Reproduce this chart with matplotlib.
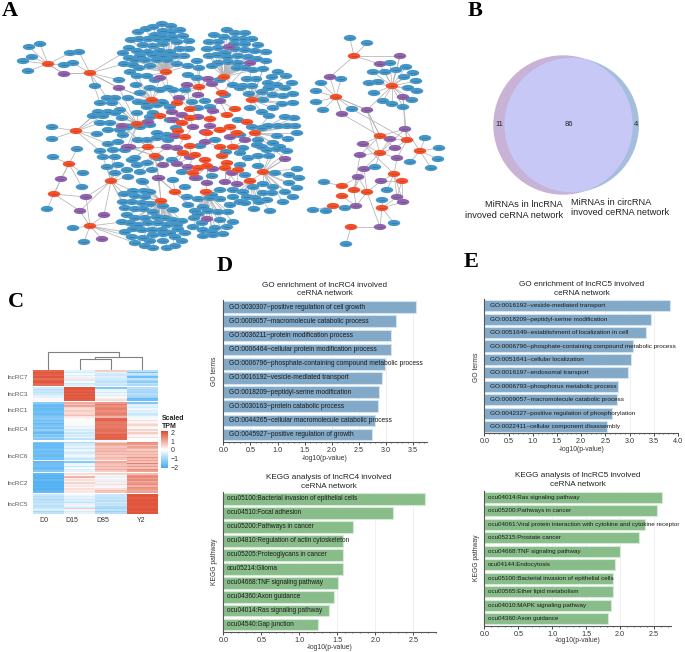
import matplotlib
matplotlib.use('Agg')
import matplotlib.pyplot as plt
import numpy as np
from matplotlib.collections import EllipseCollection, LineCollection
from matplotlib.colors import LinearSegmentedColormap
from matplotlib.patches import Circle
from matplotlib.ticker import MultipleLocator

plt.rcParams['font.family'] = ['Liberation Sans', 'DejaVu Sans']

W, H = 685, 652

# panel A, node positions (pixels)
blue_nodes = [
    # top left cloud
    (162,24),(171,26),(153,27),(146,29),(138,32),(163,31),(171,32),(180,30),(155,35),(162,36),(173,37),(183,36),
    (189,41),(131,40),(139,39),(148,39),(157,39),(167,39),(177,42),(129,48),(143,45),(153,46),(163,44),(180,49),
    (189,49),(123,53),(137,51),(148,52),(160,51),(170,52),(184,56),(129,58),(140,56),(153,55),(163,56),(175,56),
    (135,60),(145,60),(157,60),(167,60),(124,64),(133,65),(139,68),(150,66),(177,64),(130,72),(137,76),(147,76),
    # top right cloud
    (227,30),(235,33),(245,33),(214,35),(224,37),(235,39),(243,39),(252,39),(209,42),(218,42),(234,44),(245,44),
    (258,45),(207,49),(218,48),(225,53),(235,49),(245,50),(255,51),(266,52),(209,56),(217,55),(227,57),(238,56),
    (248,57),(257,59),(266,61),(197,61),(212,66),(218,63),(228,62),(238,63),(237,68),(245,68),(253,70),(263,69),
    (199,68),(188,66),(188,75),(197,78),(220,80),(247,79),(256,79),(278,72),(272,77),(286,76),(292,83),(277,85),
    (268,83),(285,88),(233,85),(243,86),(252,86),(262,92),(249,94),(273,95),(283,96),(293,94),
    # right of the core
    (269,88),(293,103),(263,100),(282,104),(250,108),(273,108),(262,112),(269,116),(285,117),(294,118),(268,126),
    (278,126),(287,126),(295,126),(262,128),(252,127),(297,133),(277,136),(288,139),(258,140),(273,143),(262,147),
    (277,149),(287,151),(243,148),(258,156),(248,158),(269,156),(240,165),(258,166),(275,173),(289,175),(297,169),
    (299,178),(263,184),(289,183),(297,188),(273,187),(253,187),(272,193),(285,192),(263,193),(243,192),(293,197),
    (255,198),(247,197),(267,200),(259,202),(245,203),(283,202),(233,197),(254,209),(270,211),
    # bottom left cloud
    (124,194),(133,191),(144,191),(135,196),(145,197),(123,202),(132,202),(142,203),(150,204),(125,208),(135,209),
    (143,209),(153,212),(163,206),(173,210),(127,215),(135,218),(145,218),(157,217),(165,218),(173,220),(182,221),
    (122,222),(130,223),(138,225),(148,223),(158,223),(167,225),(177,225),(125,232),(133,229),(142,230),(152,230),
    (162,230),(170,233),(178,229),(185,233),(132,237),(143,238),(153,235),(163,234),(175,237),(135,243),(150,241),
    (163,241),(182,241),(145,246),(153,248),(167,248),(175,246),
    # bottom centre cloud
    (187,197),(198,199),(210,198),(220,199),(188,205),(203,207),(195,211),(208,211),(218,212),(228,212),(194,218),
    (198,214),(220,220),(233,222),(202,223),(193,227),(203,230),(215,228),(227,227),(203,236),(213,235),(223,234),
    (212,232),(230,205),(240,202),
    # left of the core
    (95,86),(119,80),(136,85),(107,98),(115,98),(128,98),(138,102),(100,103),(112,103),(98,112),(108,112),(120,110),
    (93,116),(103,116),(115,113),(100,123),(110,123),(122,118),(97,134),(108,130),(120,130),(128,127),(123,135),
    (108,144),(118,142),(100,151),(113,150),(125,150),(103,157),(115,157),(107,167),(118,165),(132,160),(115,173),
    (127,170),(137,165),(142,181),(128,177),(147,107),(157,105),(170,107),(150,88),(160,90),(173,90),(137,113),
    (150,117),(162,102),(147,140),(157,133),(138,140),(167,135),
    # small groups on the left
    (77,149),(53,157),(83,173),(82,187),(47,209),(52,127),(52,139),(73,228),(84,242),
    (40,44),(29,47),(32,57),(23,61),(28,71),(70,53),(79,52),(73,63),(64,65),
    # inside the core
    (140,93),(155,80),(168,88),(145,103),(163,103),(185,90),(192,102),(198,108),(240,88),(225,95),(153,113),(140,127),
    (150,125),(157,138),(135,158),(147,163),(158,158),(140,172),(152,170),(173,180),(185,187),(143,182),(150,192),
    (220,190),(233,190),(245,175),(280,147),(257,145),(267,150),(240,153),(210,107),(197,178),(212,195),(170,120),
    (176,128),(168,140),(172,160),(200,146),(215,140),(238,120),(226,152),(212,176),(182,172),(240,135),(205,101),
    # right network
    (350,38),(367,43),(321,83),(341,79),(316,91),(316,102),(323,110),(390,63),(373,72),(385,72),(396,70),(406,67),
    (413,73),(404,77),(369,83),(378,82),(416,81),(408,88),(417,91),(374,93),(383,101),(392,104),(403,107),(412,100),
    (352,109),(425,138),(439,148),(438,159),(431,168),(410,162),(375,167),(324,182),(387,190),(382,200),(345,208),
    (313,210),(326,211),(394,223),(346,244),
]
red_nodes = [
    (48,64),(90,73),(76,131),(69,164),(54,194),(111,181),(90,226),(166,72),(224,77),(199,87),(222,93),(152,100),
    (252,100),(177,103),(160,116),(190,109),(235,109),(247,122),(137,124),(190,118),(210,119),(227,115),(182,123),
    (230,127),(255,133),(220,130),(178,131),(237,133),(185,137),(207,133),(148,147),(155,156),(190,146),(220,147),
    (233,147),(183,153),(195,155),(205,160),(222,156),(227,163),(207,166),(198,168),(193,173),(225,168),(238,170),
    (263,172),(250,181),(206,192),(175,192),(161,201),
    (354,56),(392,86),(336,97),(380,136),(407,140),(380,153),(420,151),(394,174),(402,181),(342,186),(354,190),
    (367,192),(342,196),(333,206),(382,208),(351,227),
]
purple_nodes = [
    (64,74),(119,88),(61,179),(86,197),(80,211),(104,215),(102,239),(122,126),(127,147),(159,178),(229,47),(207,219),
    (250,63),(160,78),(187,85),(208,79),(212,84),(179,98),(198,95),(220,101),(172,112),(182,115),(173,120),(198,117),
    (213,111),(148,122),(193,127),(210,126),(175,136),(205,132),(230,137),(245,140),(167,147),(177,148),(205,142),
    (285,159),(190,157),(163,165),(177,164),(188,167),(213,169),(232,173),(225,182),(158,178),(195,178),(237,184),
    (207,183),(130,147),
    (400,56),(380,64),(330,77),(403,97),(367,110),(342,114),(405,129),(390,139),(363,144),(395,148),(360,155),
    (397,158),(364,169),(358,177),(381,181),(397,197),(403,202),(356,206),(380,227),
]
long_links = [
    ((48,64),(64,74)),((64,74),(90,73)),((90,73),(119,88)),((119,88),(152,100)),((69,164),(61,179)),((61,179),(54,194)),
    ((354,56),(400,56)),((336,97),(367,110)),((367,110),(380,136)),((367,110),(380,153)),((403,97),(405,129)),
    ((342,114),(336,97)),((352,109),(407,140)),((405,129),(380,153)),((400,56),(392,86)),
]

# panel B
venn_counts = ['11', '86', '4']

# panel C, scaled TPM per cluster, columns D0 D15 D85 Y2
time_points = ['D0', 'D15', 'D85', 'Y2']
cluster_names = ['lncRC7', 'lncRC3', 'lncRC1', 'lncRC4', 'lncRC6', 'lncRC2', 'lncRC5']
lncRC7 = [[1.8,-.3,.6,-.8],[2,-.5,-.3,-1.5],[1.9,-.1,-.5,-.6],[1.8,-.4,-.6,-.9],[2,-.2,-.4,-1.6],
          [1.7,.3,-.5,-.7],[1.9,-.5,-.6,-1],[2,-.1,-.7,-1.3],[1.8,-.6,-.5,-.7],[1.7,-.4,-.6,-.9]]
lncRC3 = [[-.5,2,-1.4,-.8],[-.8,2,-.3,-.9],[-.6,1.9,-.2,-.9],[-.7,2,-.5,-1],[-.5,1.9,-.2,-.8],
          [-.4,2,-.4,-.9],[-.3,1.9,.1,-1],[.1,2,.2,-1.7],[.1,1.9,.4,-1.6]]
lncRC1 = [[-1.3,1,1.2,-1.4],[-1.6,.7,1.6,-.4],[-1.7,1.1,1.3,-.3],[-1.6,.5,1.4,-.5],[-1.7,.4,1.5,-.2],
          [-1.6,.6,1.3,-.4],[-1.5,.4,1.4,-.3],[-1.7,.5,1.5,-.6],[-1.5,.8,1.3,-.5],[-1.4,.3,.9,-.2]]
lncRC4 = [[-1.3,.1,1.8,.1],[-1.6,0,1.9,.4],[-1.4,-.1,1.6,.1],[-1.7,-.1,1.5,.3],[-1.5,.1,1.6,.5],[-1.3,-.3,1.5,.2],
          [-1.6,-.2,1.6,.1],[-1.2,-.5,1.7,.5],[-1.5,-.3,1.7,.2],[-1.7,-.6,1.6,.6],[-1.2,-.4,1.9,.3],[-1.5,-.5,1.8,.1],
          [-1,-.2,1.9,.4],[-1.4,-.7,1.8,0]]
lncRC6 = [[-1.4,-.9,.6,1.4],[-1.7,-.5,1.1,1.2],[-1.6,-.4,.9,.8],[-1.7,-.3,.7,1.1],[-1.6,-.6,.9,.9],[-1.5,-.2,.8,.6],
          [-1.7,-.4,1,1],[-1.6,-.5,.7,.7],[-1.6,-.3,.9,.9],[-1.7,-.2,.6,.7],[-1.5,-.4,.9,1.3],[-1.6,-.6,.7,.8],
          [.2,-.1,.2,1.1],[-1.7,-1.3,1,.7],[-1.6,-.3,.8,1.5],[-1.6,-.2,.7,.8],[-1.5,-.6,.9,1.2],[-1.7,-.1,.7,.7],
          [-1.6,-.4,1,1.4],[-1.4,-.3,.6,1.1]]
lncRC2 = [[-1.7,.4,.5,.8],[-1.9,.1,.1,1.3],[-1.8,.9,-.3,1.4],[-1.9,.2,-.1,1.1],[-1.7,.4,.2,1.4],[-1.9,.1,-.4,1],
          [-1.9,.5,.2,1.2],[-1.8,.2,.4,1.4],[-1.9,.3,-.2,.9],[-1.8,.1,.1,1.3],[-1.9,.4,.4,1.2],[-1.8,.2,.8,1],
          [-1.7,.3,.7,1.1]]
lncRC5 = [[-.6,-.2,-.6,2],[-.8,-.4,-.6,2],[-.7,-.3,-.7,1.9],[-.9,-.5,-.6,2],[-.7,-.4,-.8,2],[-.8,-.7,-.5,1.9],
          [-.6,-.3,-.7,2],[-.8,-.1,-.6,2],[-.7,-.4,-.9,1.9],[-.5,.7,-1,2],[-.4,-.2,-.7,2],[-1,-.5,-1.1,1.9],[-.7,-.3,-.8,2]]
cluster_values = [lncRC7, lncRC3, lncRC1, lncRC4, lncRC6, lncRC2, lncRC5]
cbar_ticks = [-2, -1, 0, 1, 2]

# panel D
go_c4_terms = ['GO:0030307~positive regulation of cell growth', 'GO:0009057~macromolecule catabolic process',
               'GO:0036211~protein modification process', 'GO:0006464~cellular protein modification process',
               'GO:0006796~phosphate-containing compound metabolic process', 'GO:0016192~vesicle-mediated transport',
               'GO:0018209~peptidyl-serine modification', 'GO:0030163~protein catabolic process',
               'GO:0044265~cellular macromolecule catabolic process', 'GO:0045927~positive regulation of growth']
go_c4_vals = [3.56, 3.19, 3.10, 3.10, 2.99, 2.92, 2.87, 2.86, 2.79, 2.74]
kegg_c4_terms = ['ocu05100:Bacterial invasion of epithelial cells', 'ocu04510:Focal adhesion',
                 'ocu05200:Pathways in cancer', 'ocu04810:Regulation of actin cytoskeleton',
                 'ocu05205:Proteoglycans in cancer', 'ocu05214:Glioma', 'ocu04668:TNF signaling pathway',
                 'ocu04360:Axon guidance', 'ocu04014:Ras signaling pathway', 'ocu04540:Gap junction']
kegg_c4_vals = [2.66, 2.24, 1.71, 1.58, 1.58, 1.57, 1.51, 1.46, 1.39, 1.25]

# panel E
go_c5_terms = ['GO:0016192~vesicle-mediated transport', 'GO:0018209~peptidyl-serine modification',
               'GO:0051649~establishment of localization in cell',
               'GO:0006796~phosphate-containing compound metabolic process', 'GO:0051641~cellular localization',
               'GO:0016197~endosomal transport', 'GO:0006793~phosphorus metabolic process',
               'GO:0009057~macromolecule catabolic process', 'GO:0042327~positive regulation of phosphorylation',
               'GO:0022411~cellular component disassembly']
go_c5_vals = [3.83, 3.44, 3.33, 3.08, 3.03, 2.97, 2.77, 2.73, 2.63, 2.54]
kegg_c5_terms = ['ocu04014:Ras signaling pathway', 'ocu05200:Pathways in cancer',
                 'ocu04061:Viral protein interaction with cytokine and cytokine receptor', 'ocu05215:Prostate cancer',
                 'ocu04668:TNF signaling pathway', 'ocu04144:Endocytosis',
                 'ocu05100:Bacterial invasion of epithelial cells', 'ocu00565:Ether lipid metabolism',
                 'ocu04010:MAPK signaling pathway', 'ocu04360:Axon guidance']
kegg_c5_vals = [2.61, 2.54, 2.36, 2.28, 2.00, 1.93, 1.90, 1.89, 1.86, 1.82]

fig = plt.figure(figsize=(W / 100, H / 100), dpi=100)


def px_axes(left, top, right, bottom):
    return fig.add_axes([left / W, 1 - bottom / H, (right - left) / W, (bottom - top) / H])


# whole figure canvas in pixels, for the network, venn and loose text
bg = px_axes(0, 0, W, H)
bg.set_xlim(0, W)
bg.set_ylim(H, 0)
bg.axis('off')

for letter, x, y in [('A', 2, 11), ('B', 468, 11), ('C', 8, 302), ('D', 217, 266), ('E', 464, 262)]:
    bg.text(x, y, letter, fontsize=16, fontweight='bold', family='Liberation Serif', va='center', ha='left')

# network
blue = np.array(blue_nodes, dtype=float)
red = np.array(red_nodes, dtype=float)
purple = np.array(purple_nodes, dtype=float)

segs = []
for p in blue:
    d = np.hypot(*(red - p).T)
    segs.append((p, red[np.argmin(d)]))
for p in purple:
    d = np.hypot(*(red - p).T)
    for i in np.argsort(d)[:3]:
        if d[i] < 45:
            segs.append((p, red[i]))
segs += long_links
bg.add_collection(LineCollection(segs, colors='#b4b4b4', linewidths=0.55, zorder=1))


def draw_nodes(pts, color, w, h, z):
    # sizes given in points so the upside down pixel axis does not matter
    bg.add_collection(EllipseCollection(np.full(len(pts), w * 0.72), np.full(len(pts), h * 0.72), np.zeros(len(pts)),
                                        units='points', offsets=pts, offset_transform=bg.transData, facecolors=color,
                                        edgecolors='none', zorder=z))
    # the node names are unreadable at this size, only a dark smudge is left
    bg.plot(pts[:, 0], pts[:, 1], ls='none', marker='_', ms=4.2, mew=0.45, color='#000000', alpha=0.25, zorder=z)


draw_nodes(blue, '#4596c8', 12.5, 6.2, 2)
draw_nodes(purple, '#8e63ab', 12.5, 6.2, 3)
draw_nodes(red, '#f2512c', 12.5, 6.2, 4)

# venn
left_c = Circle((563, 125), 69.7, fc='#c8b3d6', ec='none', zorder=1)
right_c = Circle((571.7, 125), 67.3, fc='#a5bedd', ec='none', zorder=2)
both = Circle((571.7, 125), 67.3, fc='#c7c8f5', ec='none', zorder=3)
bg.add_patch(left_c)
bg.add_patch(right_c)
bg.add_patch(both)
both.set_clip_path(Circle((563, 125), 69.7, transform=bg.transData))
for txt, x in zip(venn_counts, [499, 569, 636]):
    bg.text(x, 124, txt, fontsize=5.5, ha='center', va='center', color='#222222', zorder=5)
bg.text(563, 210, 'MiRNAs in lncRNA\ninvoved ceRNA network', fontsize=6.7, ha='right', va='center',
        multialignment='right', color='#222222', linespacing=1.15)
bg.text(571.5, 207.5, 'MiRNAs in circRNA\ninvoved ceRNA network', fontsize=6.7, ha='left', va='center',
        color='#222222', linespacing=1.15)

# heatmap
heat_cmap = LinearSegmentedColormap.from_list('tpm', ['#3fa9f2', '#ffffff', '#df4a30'])
group_spans = [(370, 385.7), (387, 401), (402.3, 417.7), (419, 440.3), (442, 472), (473.3, 493.3), (494.7, 514.5)]
ax_h = px_axes(33, 370, 158, 514.5)
ax_h.axis('off')
for vals, (y0, y1), name in zip(cluster_values, group_spans, cluster_names):
    im = ax_h.imshow(np.array(vals), cmap=heat_cmap, vmin=-2.15, vmax=2.15, aspect='auto',
                     extent=(0, 4, y1, y0), interpolation='nearest')
    bg.text(28, (y0 + y1) / 2, name, fontsize=4.5, ha='right', va='center', color='#555555')
ax_h.set_xlim(0, 4)
ax_h.set_ylim(514.5, 370)

for name, x in zip(time_points, [44, 72, 103, 141]):
    bg.text(x, 520, name, fontsize=5, ha='center', va='center', color='#333333')

# dendrogram
col_x = [48.3, 79.7, 111, 142.3]
bg.plot([col_x[1], col_x[1], col_x[2], col_x[2]], [370, 359, 359, 370], color='#808080', lw=0.8)
bg.plot([95, 95, col_x[3], col_x[3]], [359, 356.7, 356.7, 370], color='#808080', lw=0.8)
bg.plot([col_x[0], col_x[0], 119, 119], [370, 351.7, 351.7, 356.7], color='#808080', lw=0.8)

# colour bar
cax = px_axes(161.3, 431.3, 168.3, 468.3)
cb = fig.colorbar(im, cax=cax)
cb.set_ticks(cbar_ticks, labels=['\u22122', '\u22121', '0', '1', '2'])
cb.ax.tick_params(length=0, labelsize=5, pad=1.5, labelcolor='#333333')
cb.outline.set_visible(False)
bg.text(161.5, 422, 'Scaled\nTPM', fontsize=5, fontweight='bold', ha='left', va='center', color='#222222')


def enrichment(box, terms, vals, xmax, major, color, edge, pad_px, label_size, title, title_xy, xlab_xy, ylab, ylab_xy):
    ax = px_axes(*box)
    y = np.arange(len(terms))
    ax.set_axisbelow(True)
    ax.xaxis.grid(True, color='#eeeeee', lw=0.6)
    ax.barh(y, vals, height=0.82, color=color, edgecolor=edge, linewidth=0.8)
    ax.set_xlim(0, xmax)
    ax.set_ylim(len(terms) - 0.5, -0.5)
    ax.set_yticks([])
    ax.xaxis.set_major_locator(MultipleLocator(major))
    ax.xaxis.set_minor_locator(MultipleLocator(0.1))
    ax.xaxis.set_major_formatter('{x:.1f}')
    ax.tick_params(axis='x', which='major', length=2.2, width=0.5, labelsize=5.2, pad=1.5, labelcolor='#333333')
    ax.tick_params(axis='x', which='minor', length=1, width=0.4)
    for s in ['top', 'right']:
        ax.spines[s].set_visible(False)
    for s in ['left', 'bottom']:
        ax.spines[s].set_linewidth(0.8)
        ax.spines[s].set_color('#555555')
    for i, t in enumerate(terms):
        ax.annotate(t, (0, i), xytext=(pad_px * 0.72, 0), textcoords='offset points', fontsize=label_size, va='center',
                    ha='left', color='#1a1a1a', annotation_clip=False)
    bg.text(*title_xy, title, fontsize=5.9, ha='center', va='center', color='#222222', linespacing=1.25)
    bg.text(*xlab_xy, '-log10(p-value)', fontsize=4.9, ha='center', va='center', color='#333333')
    bg.text(*ylab_xy, ylab, fontsize=4.9, ha='center', va='center', rotation=90, color='#333333')
    return ax


GO_BLUE, GO_EDGE = '#82a9c7', '#d5e3ee'
KEGG_GREEN, KEGG_EDGE = '#88bd8a', '#d6ead7'
enrichment((223.3, 300, 426.7, 441.7), go_c4_terms, go_c4_vals, 3.75, 0.5, GO_BLUE, GO_EDGE, 5.3, 4.77,
           'GO enrichment of lncRC4 involved\nceRNA network', (325, 289.5), (325, 458), 'GO terms', (215, 371))
enrichment((223.3, 492, 436, 631.7), kegg_c4_terms, kegg_c4_vals, 2.8, 0.5, KEGG_GREEN, KEGG_EDGE, 3.3, 4.72,
           'KEGG analysis of lncRC4 involved\nceRNA network', (329, 482), (330, 647.5), 'KEGG pathway', (215, 562))
enrichment((484.3, 299, 678, 433.3), go_c5_terms, go_c5_vals, 4.0, 0.5, GO_BLUE, GO_EDGE, 5.7, 4.55,
           'GO enrichment of lncRC5 involved\nceRNA network', (582, 289), (582, 449.5), 'GO terms', (477, 367))
enrichment((484.3, 490.7, 670.7, 625.7), kegg_c5_terms, kegg_c5_vals, 2.745, 0.5, KEGG_GREEN, KEGG_EDGE, 3.3, 4.5,
           'KEGG analysis of lncRC5 involved\nceRNA network', (578, 480), (578, 641), 'KEGG pathway', (477, 558))

fig.savefig('out.png', dpi=100)
